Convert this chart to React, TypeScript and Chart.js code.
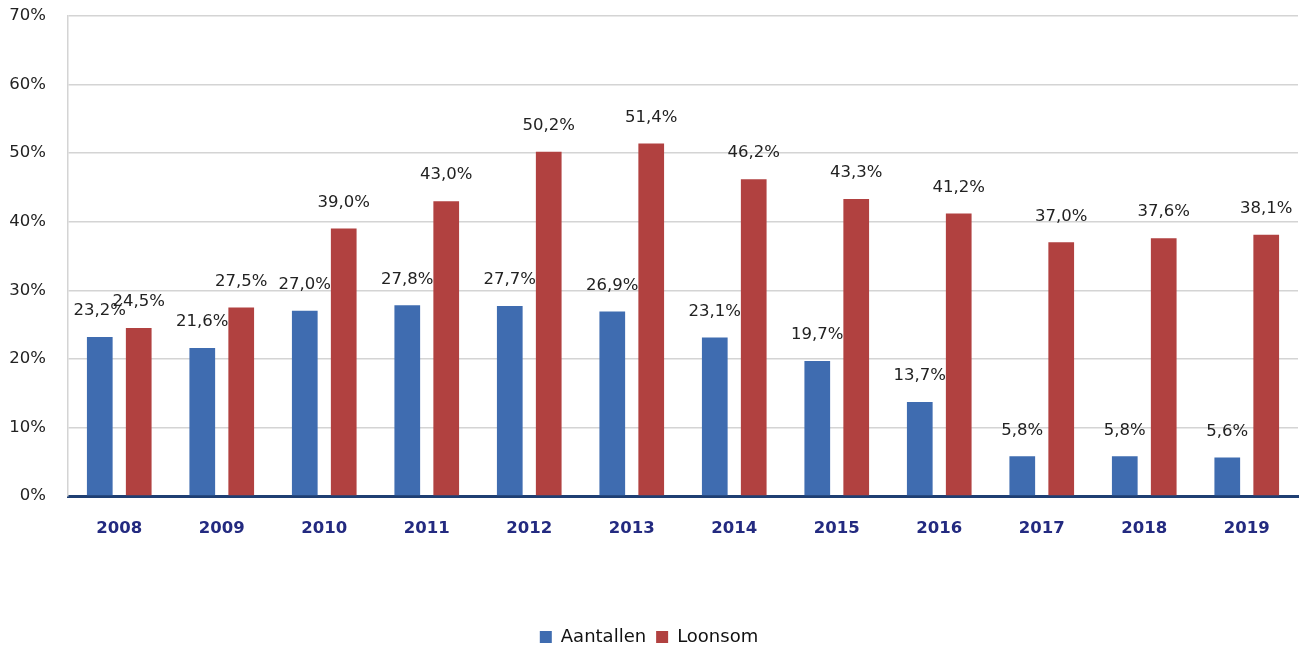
import React, { useEffect, useRef } from "react";
import { Chart, registerables } from "chart.js";

Chart.register(...registerables);

const years = ["2008", "2009", "2010", "2011", "2012", "2013", "2014", "2015", "2016", "2017", "2018", "2019"];
const aantallen = [23.2, 21.6, 27.0, 27.8, 27.7, 26.9, 23.1, 19.7, 13.7, 5.8, 5.8, 5.6];
const loonsom = [24.5, 27.5, 39.0, 43.0, 50.2, 51.4, 46.2, 43.3, 41.2, 37.0, 37.6, 38.1];
const yTicks = [0, 10, 20, 30, 40, 50, 60, 70];

const FONT = "'DejaVu Sans', sans-serif";

const valueLabels = {
  id: "valueLabels",
  afterDatasetsDraw(chart: any) {
    const ctx = chart.ctx;
    ctx.save();
    ctx.font = `16.5px ${FONT}`;
    ctx.fillStyle = "#222222";
    ctx.textAlign = "center";
    ctx.textBaseline = "middle";
    chart.data.datasets.forEach((ds: any, di: number) => {
      const meta = chart.getDatasetMeta(di);
      meta.data.forEach((el: any, i: number) => {
        const v = ds.data[i];
        const txt = v.toFixed(1).replace(".", ",") + "%";
        ctx.fillText(txt, el.x, el.y - 26);
      });
    });
    ctx.restore();
  },
};

export default function App() {
  const ref = useRef<HTMLCanvasElement | null>(null);
  useEffect(() => {
    if (!ref.current) return;
    let chart: any = null;
    let cancelled = false;
    const build = () => {
      if (cancelled || !ref.current) return;
      chart = new Chart(ref.current, {
        type: "bar",
        data: {
          labels: years,
          datasets: [
            { label: "Aantallen", data: aantallen, backgroundColor: "#3F6CB0", borderWidth: 0 },
            { label: "Loonsom", data: loonsom, backgroundColor: "#B14140", borderWidth: 0 },
          ],
        },
        options: {
          animation: false,
          responsive: false,
          maintainAspectRatio: false,
          layout: { padding: { top: 16, right: 1, left: 0, bottom: -4 } },
          datasets: {
            bar: { categoryPercentage: 0.76, barPercentage: 0.66 },
          },
          plugins: {
            tooltip: { enabled: false },
            legend: {
              position: "bottom",
              labels: {
                font: { family: FONT, size: 18 },
                color: "#111111",
                boxWidth: 12,
                boxHeight: 12,
                padding: 10,
              },
            },
          },
          scales: {
            x: {
              grid: { display: false, drawTicks: false },
              border: { display: true, color: "#1F3F73", width: 3 },
              ticks: {
                font: { family: FONT, size: 16.5, weight: "bold" },
                color: "#232A80",
                padding: 23,
              },
              afterFit(scale: any) {
                scale.height = 122;
              },
            },
            y: {
              min: 0,
              max: 70,
              afterBuildTicks(scale: any) {
                scale.ticks = yTicks.map((v) => ({ value: v }));
              },
              grid: { color: "#D4D4D4", lineWidth: 1.5, drawTicks: false },
              border: { display: true, color: "#D4D4D4", width: 1.5 },
              ticks: {
                font: { family: FONT, size: 16.5 },
                color: "#222222",
                padding: 22,
                callback: (v: any) => v + "%",
              },
              afterFit(scale: any) {
                scale.width = 68;
                scale.paddingTop = 0;
                scale.paddingBottom = 0;
              },
            },
          },
        },
        plugins: [valueLabels],
      });
    };
    const fonts: any = (document as any).fonts;
    if (fonts && fonts.load) {
      Promise.all([
        fonts.load(`14px 'DejaVu Sans'`),
        fonts.load(`bold 16px 'DejaVu Sans'`),
      ]).then(build, build);
    } else {
      build();
    }
    return () => {
      cancelled = true;
      if (chart) chart.destroy();
    };
  }, []);
  return (
    <div style={{ position: "fixed", left: 0, top: 0, width: 1299, height: 652, background: "#fff" }}>
      <canvas ref={ref} width={1299} height={652} style={{ width: 1299, height: 652 }} />
    </div>
  );
}
